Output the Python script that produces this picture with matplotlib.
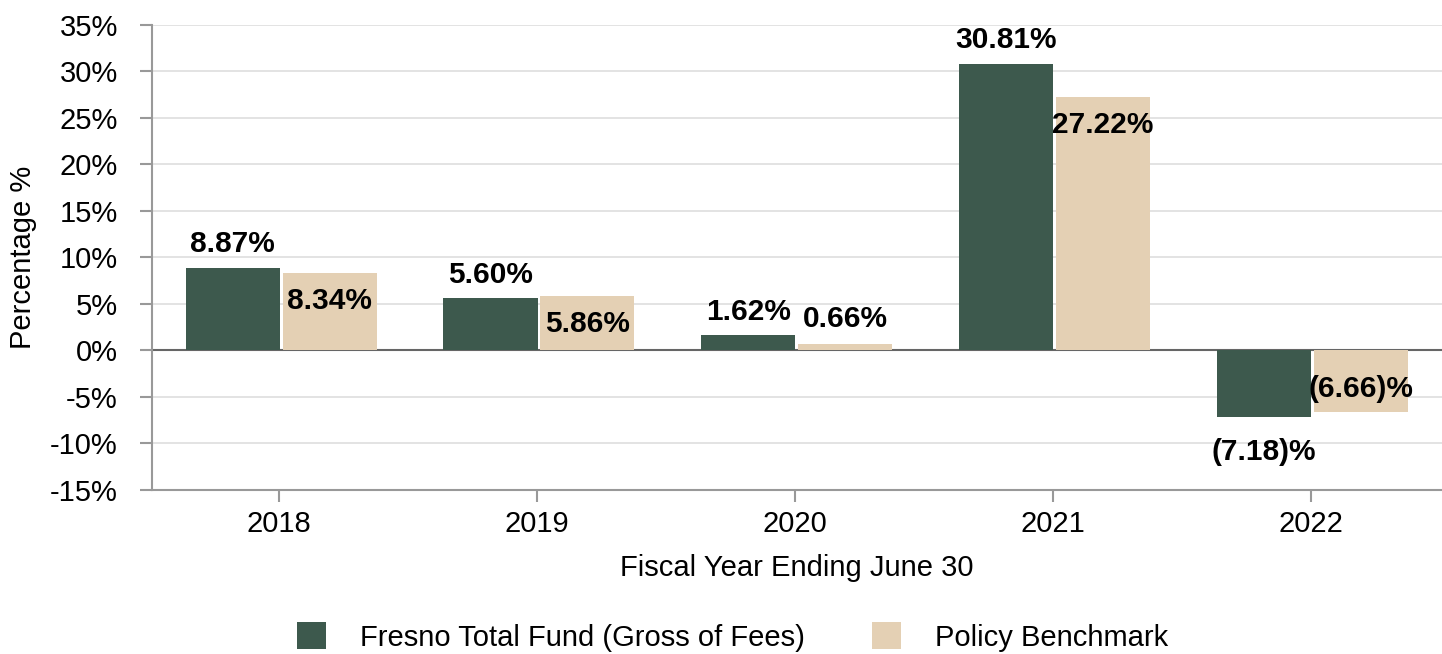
import numpy as np
import matplotlib
matplotlib.use('Agg')
import matplotlib.pyplot as plt

years = ['2018', '2019', '2020', '2021', '2022']
fund = [8.87, 5.60, 1.62, 30.81, -7.18]
bench = [8.34, 5.86, 0.66, 27.22, -6.66]
series_names = ['Fresno Total Fund (Gross of Fees)', 'Policy Benchmark']

GREEN = '#3d594d'
BEIGE = '#e4d0b4'

plt.rcParams['font.family'] = ['Liberation Sans', 'DejaVu Sans']
FS = 21
LFS = 21.5


def fmt(v):
    if v < 0:
        return f'({abs(v):.2f})%'
    return f'{v:.2f}%'


fig = plt.figure(figsize=(14.42, 6.54), dpi=100)
ax = fig.add_axes([0.1054, 0.2508, 0.8946, 0.711])

x = np.arange(len(years))
w = 0.365
b1 = ax.bar(x - 0.181, fund, w, color=GREEN, zorder=3, label=series_names[0])
b2 = ax.bar(x + 0.195, bench, w, color=BEIGE, zorder=3, label=series_names[1])

# fund labels sit outside the bar end
for xi, v in zip(x - 0.181, fund):
    off = 17 if v >= 0 else -25
    ax.annotate(fmt(v), (xi, v), xytext=(0, off), textcoords='offset points',
                ha='center', va='center', fontsize=LFS, fontweight='bold', zorder=4)

# benchmark labels sit inside the bar end (outside if bar is too short)
for xi, v in zip(x + 0.195, bench):
    if abs(v) < 3:
        off = 18
    else:
        off = -20 if v >= 0 else 17
    ax.annotate(fmt(v), (xi, v), xytext=(0, off), textcoords='offset points',
                ha='center', va='center', fontsize=LFS, fontweight='bold', zorder=4)

ax.set_ylim(-15, 35)
ax.set_xlim(-0.494, 4.51)
ax.set_yticks(np.arange(-15, 36, 5))
ax.set_yticklabels([f'{t}%' for t in range(-15, 36, 5)])
ax.set_xticks(x)
ax.set_xticklabels(years)

ax.yaxis.grid(True, color='#e3e3e3', lw=1.4, zorder=0)
ax.set_axisbelow(True)
ax.axhline(0, color='#666666', lw=1.5, zorder=2)

for s in ['top', 'right']:
    ax.spines[s].set_visible(False)
for s in ['left', 'bottom']:
    ax.spines[s].set_color('#999999')
    ax.spines[s].set_linewidth(1.5)

ax.tick_params(axis='y', length=8.6, width=1.5, color='#999999', pad=16, labelsize=FS)
ax.tick_params(axis='x', length=8.6, width=1.5, color='#999999', pad=6, labelsize=FS)

ax.set_ylabel('Percentage %', fontsize=FS, labelpad=9)
ax.set_xlabel('Fiscal Year Ending June 30', fontsize=FS, labelpad=11)

fig.legend(handles=[b1, b2], loc='center', bbox_to_anchor=(0.508, 1 - 637 / 654),
           ncol=2, frameon=False, fontsize=FS, handlelength=1.0, handleheight=1.0,
           handletextpad=1.15, columnspacing=2.3)

fig.savefig('out.png', dpi=100)
